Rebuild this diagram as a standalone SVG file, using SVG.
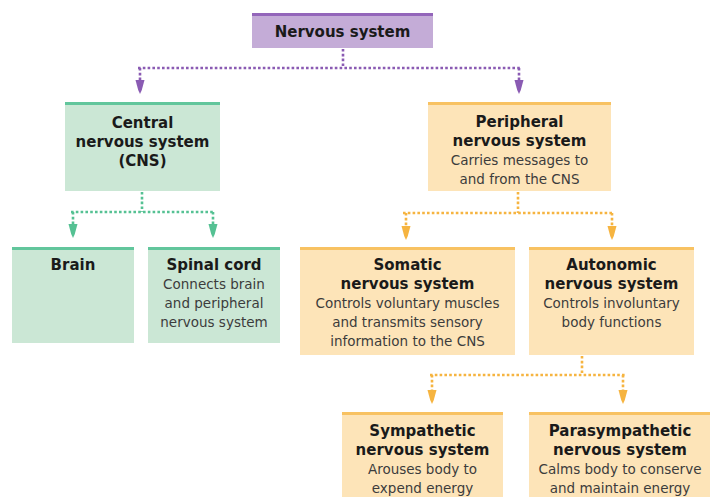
<svg xmlns="http://www.w3.org/2000/svg" width="710" height="497" viewBox="0 0 710 497">
<style>
.h{font-family:"DejaVu Sans","Liberation Sans",sans-serif;font-weight:bold;font-size:15px;fill:#1a1a1a;text-anchor:middle}
.b{font-family:"DejaVu Sans","Liberation Sans",sans-serif;font-size:13.5px;fill:#3c3c3c;text-anchor:middle}
.pf{fill:#c4acd7}.pt{fill:#9365ba}
.gf{fill:#cbe7d5}.gt{fill:#62c69c}
.of{fill:#fde4b8}.ot{fill:#f8c262}
.d{fill:none;stroke-width:2.6;stroke-dasharray:2.6 2.2}
</style>
<defs>
<path id="ah" d="M-4.5,0 L4.5,0 L1.8,10 L0,14 L-1.8,10 Z"/>
</defs>
<rect width="710" height="497" fill="#ffffff"/>

<g id="connectors">
  <g stroke="#8a5bb3" fill="#8a5bb3">
    <path class="d" d="M343,49 V68 M138,68 H521 M140,68 V80 M519,68 V80"/>
    <use href="#ah" x="140" y="80" stroke="none"/>
    <use href="#ah" x="519" y="80" stroke="none"/>
  </g>
  <g stroke="#55c193" fill="#55c193">
    <path class="d" d="M142,192 V212 M71,212 H215 M73,212 V224 M213,212 V224"/>
    <use href="#ah" x="73" y="224" stroke="none"/>
    <use href="#ah" x="213" y="224" stroke="none"/>
  </g>
  <g stroke="#f6b440" fill="#f6b440">
    <path class="d" d="M518,192 V213 M403,213 H614 M406,213 V226 M612,213 V226"/>
    <use href="#ah" x="406" y="226" stroke="none"/>
    <use href="#ah" x="612" y="226" stroke="none"/>
    <path class="d" d="M582,356 V375 M430,375 H625 M432,375 V390 M623,375 V390"/>
    <use href="#ah" x="432" y="390" stroke="none"/>
    <use href="#ah" x="623" y="390" stroke="none"/>
  </g>
</g>

<g id="nervous-system">
  <rect class="pf" x="252" y="13" width="181" height="35"/>
  <rect class="pt" x="252" y="13" width="181" height="3"/>
  <text class="h" x="342.5" y="37">Nervous system</text>
</g>

<g id="cns">
  <rect class="gf" x="65" y="102" width="155" height="89"/>
  <rect class="gt" x="65" y="102" width="155" height="3"/>
  <text class="h" x="142.5" y="128">Central</text>
  <text class="h" x="142.5" y="147">nervous system</text>
  <text class="h" x="142.5" y="166">(CNS)</text>
</g>

<g id="brain">
  <rect class="gf" x="12" y="247" width="122" height="96"/>
  <rect class="gt" x="12" y="247" width="122" height="3"/>
  <text class="h" x="73" y="270">Brain</text>
</g>

<g id="spinal-cord">
  <rect class="gf" x="148" y="247" width="132" height="96"/>
  <rect class="gt" x="148" y="247" width="132" height="3"/>
  <text class="h" x="214" y="270">Spinal cord</text>
  <text class="b" x="214" y="289">Connects brain</text>
  <text class="b" x="214" y="308">and peripheral</text>
  <text class="b" x="214" y="327">nervous system</text>
</g>

<g id="peripheral">
  <rect class="of" x="428" y="102" width="183" height="89"/>
  <rect class="ot" x="428" y="102" width="183" height="3"/>
  <text class="h" x="519.5" y="127">Peripheral</text>
  <text class="h" x="519.5" y="146">nervous system</text>
  <text class="b" x="519.5" y="165">Carries messages to</text>
  <text class="b" x="519.5" y="184">and from the CNS</text>
</g>

<g id="somatic">
  <rect class="of" x="300" y="247" width="215" height="108"/>
  <rect class="ot" x="300" y="247" width="215" height="3"/>
  <text class="h" x="407.5" y="270">Somatic</text>
  <text class="h" x="407.5" y="289">nervous system</text>
  <text class="b" x="407.5" y="308">Controls voluntary muscles</text>
  <text class="b" x="407.5" y="327">and transmits sensory</text>
  <text class="b" x="407.5" y="346">information to the CNS</text>
</g>

<g id="autonomic">
  <rect class="of" x="529" y="247" width="165" height="108"/>
  <rect class="ot" x="529" y="247" width="165" height="3"/>
  <text class="h" x="611.5" y="270">Autonomic</text>
  <text class="h" x="611.5" y="289">nervous system</text>
  <text class="b" x="611.5" y="308">Controls involuntary</text>
  <text class="b" x="611.5" y="327">body functions</text>
</g>

<g id="sympathetic">
  <rect class="of" x="342" y="412" width="161" height="85"/>
  <rect class="ot" x="342" y="412" width="161" height="3"/>
  <text class="h" x="422.5" y="436">Sympathetic</text>
  <text class="h" x="422.5" y="455">nervous system</text>
  <text class="b" x="422.5" y="474">Arouses body to</text>
  <text class="b" x="422.5" y="493">expend energy</text>
</g>

<g id="parasympathetic">
  <rect class="of" x="529" y="412" width="181" height="85"/>
  <rect class="ot" x="529" y="412" width="181" height="3"/>
  <text class="h" x="620" y="436">Parasympathetic</text>
  <text class="h" x="620" y="455">nervous system</text>
  <text class="b" x="620" y="474">Calms body to conserve</text>
  <text class="b" x="620" y="493">and maintain energy</text>
</g>
</svg>
